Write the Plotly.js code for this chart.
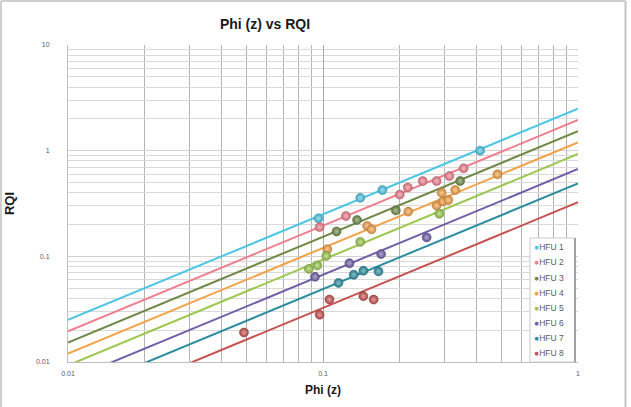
<!DOCTYPE html>
<html>
<head>
<meta charset="utf-8">
<script src="https://cdn.plot.ly/plotly-3.0.1.min.js"></script>
<style>
  html, body { margin: 0; padding: 0; background: #ffffff; }
  #chart { width: 631px; height: 407px; }
</style>
</head>
<body>
<div id="chart"></div>
<script>
// Hydraulic flow units: normalized porosity Phi(z) against reservoir quality index
const unitNames = ['HFU 1', 'HFU 2', 'HFU 3', 'HFU 4', 'HFU 5', 'HFU 6', 'HFU 7', 'HFU 8'];
const unitColors = ['#4cc5e4', '#ee7e8c', '#6e8946', '#f4a146', '#9ac74c', '#6f5fa7', '#2b8d9f', '#c6514f'];
// Flow zone indicator of each unit (RQI = FZI * Phi(z))
const fzi = [2.5, 1.95, 1.53, 1.2, 0.93, 0.67, 0.49, 0.325];

const phiZ1 = [0.096, 0.140, 0.171, 0.413];
const rqi1  = [0.229, 0.358, 0.424, 1.0];
const phiZ2 = [0.097, 0.123, 0.200, 0.215, 0.246, 0.279, 0.313, 0.356];
const rqi2  = [0.189, 0.241, 0.384, 0.448, 0.516, 0.516, 0.575, 0.680];
const phiZ3 = [0.113, 0.136, 0.193, 0.345];
const rqi3  = [0.172, 0.221, 0.272, 0.516];
const phiZ4 = [0.104, 0.149, 0.155, 0.216, 0.279, 0.295, 0.310, 0.292, 0.330, 0.483];
const rqi4  = [0.117, 0.194, 0.180, 0.265, 0.302, 0.331, 0.341, 0.399, 0.424, 0.597];
const phiZ5 = [0.088, 0.095, 0.103, 0.140, 0.286];
const rqi5  = [0.076, 0.082, 0.101, 0.137, 0.253];
const phiZ6 = [0.093, 0.127, 0.169, 0.255];
const rqi6  = [0.064, 0.086, 0.105, 0.151];
const phiZ7 = [0.115, 0.132, 0.144, 0.165];
const rqi7  = [0.056, 0.067, 0.073, 0.072];
const phiZ8 = [0.049, 0.097, 0.106, 0.144, 0.158];
const rqi8  = [0.019, 0.028, 0.039, 0.042, 0.039];

const phiZ = [phiZ1, phiZ2, phiZ3, phiZ4, phiZ5, phiZ6, phiZ7, phiZ8];
const rqi  = [rqi1, rqi2, rqi3, rqi4, rqi5, rqi6, rqi7, rqi8];

const xTickVals = [0.01, 0.1, 1];
const xTickText = ['0.01', '0.1', '1'];
const yTickVals = [0.01, 0.1, 1, 10];
const yTickText = ['0.01', '0.1', '1', '10'];
const xMinorVals = [0.02,0.03,0.04,0.05,0.06,0.07,0.08,0.09,0.2,0.3,0.4,0.5,0.6,0.7,0.8,0.9];
const yMinorVals = [0.02,0.03,0.04,0.05,0.06,0.07,0.08,0.09,0.2,0.3,0.4,0.5,0.6,0.7,0.8,0.9,2,3,4,5,6,7,8,9];

const xSpan = [0.01, 1];

function shade(hex, f) {
  const n = parseInt(hex.slice(1), 16);
  let r = (n >> 16) & 255, g = (n >> 8) & 255, b = n & 255;
  if (f >= 0) { r += (255 - r) * f; g += (255 - g) * f; b += (255 - b) * f; }
  else { r *= 1 + f; g *= 1 + f; b *= 1 + f; }
  return 'rgb(' + Math.round(r) + ',' + Math.round(g) + ',' + Math.round(b) + ')';
}

const traces = [];
// trend line of each flow unit across the full Phi(z) span
unitNames.forEach((name, i) => {
  traces.push({
    type: 'scatter', mode: 'lines', showlegend: false, hoverinfo: 'skip',
    x: xSpan, y: xSpan.map(v => v * fzi[i]),
    line: { color: unitColors[i], width: 2 }
  });
});
// measured samples
unitNames.forEach((name, i) => {
  traces.push({
    type: 'scatter', mode: 'markers', name: name, showlegend: false,
    x: phiZ[i], y: rqi[i],
    marker: {
      size: 9, color: shade(unitColors[i], -0.15),
      gradient: { type: 'radial', color: shade(unitColors[i], 0.45) },
      line: { width: 0.5, color: shade(unitColors[i], -0.3) }
    }
  });
});

// legend box drawn in paper coordinates
const plotL = 68, plotR = 578, plotT = 45, plotB = 362;
const px = v => (v - plotL) / (plotR - plotL);
const py = v => (plotB - v) / (plotB - plotT);

const shapes = [
  // outer frame
  { type: 'line', xref: 'paper', yref: 'paper', x0: px(1), x1: px(1), y0: py(1), y1: py(410), line: { color: '#cfcfcf', width: 2 } },
  { type: 'line', xref: 'paper', yref: 'paper', x0: px(1), x1: px(625.5), y0: py(1), y1: py(1), line: { color: '#cfcfcf', width: 2 } },
  { type: 'line', xref: 'paper', yref: 'paper', x0: px(625.5), x1: px(625.5), y0: py(1), y1: py(410), line: { color: '#c4c4c4', width: 2 } },
  // legend panel
  { type: 'rect', xref: 'paper', yref: 'paper', x0: px(530), x1: px(575), y0: py(362), y1: py(238),
    fillcolor: '#ffffff', line: { color: '#c8c8c8', width: 1 }, layer: 'above' },
  { type: 'line', xref: 'paper', yref: 'paper', x0: px(575), x1: px(575), y0: py(362), y1: py(238),
    line: { color: '#8c8c8c', width: 1.5 }, layer: 'above' }
];

const annotations = unitNames.map((name, i) => ({
  xref: 'paper', yref: 'paper', x: px(531.5), y: py(247.3 + i * 15.1),
  xanchor: 'left', yanchor: 'middle', showarrow: false,
  text: '<span style="color:' + unitColors[i] + '">●</span>' + name,
  font: { family: 'Liberation Sans, Arial, sans-serif', size: 8.5, color: '#595959' }
}));

const axisFont = { family: 'Liberation Sans, Arial, sans-serif', size: 7, color: '#595959' };

const layout = {
  width: 631, height: 407,
  margin: { l: plotL, r: 631 - plotR, t: plotT, b: 407 - plotB, pad: 0 },
  paper_bgcolor: '#ffffff', plot_bgcolor: '#ffffff',
  showlegend: false,
  title: {
    text: 'Phi (z) vs RQI',
    font: { family: 'Liberation Sans, Arial, sans-serif', size: 14, color: '#1a1a1a', weight: 'bold' },
    x: 265 / 631, xref: 'container', xanchor: 'center',
    y: 1 - 24 / 407, yref: 'container', yanchor: 'middle'
  },
  xaxis: {
    type: 'log', range: [-2, 0], fixedrange: true,
    tickmode: 'array', tickvals: xTickVals, ticktext: xTickText,
    tickfont: axisFont, ticks: '', ticklabelstandoff: 5,
    showgrid: true, gridcolor: '#a9a9a9', gridwidth: 1,
    minor: { tickmode: 'array', tickvals: xMinorVals, showgrid: true, gridcolor: '#b3b3b3', gridwidth: 1, ticks: '' },
    showline: true, linecolor: '#bfbfbf', linewidth: 1, mirror: false, zeroline: false,
    title: { text: 'Phi (z)', standoff: 9,
      font: { family: 'Liberation Sans, Arial, sans-serif', size: 12, color: '#1a1a1a', weight: 'bold' } },
    automargin: false
  },
  yaxis: {
    type: 'log', range: [-2, 1], fixedrange: true,
    tickmode: 'array', tickvals: yTickVals, ticktext: yTickText,
    tickfont: axisFont, ticks: '', ticklabelstandoff: 16,
    showgrid: true, gridcolor: '#d2d2d2', gridwidth: 1,
    minor: { tickmode: 'array', tickvals: yMinorVals, showgrid: true, gridcolor: '#d9d9d9', gridwidth: 1, ticks: '' },
    showline: true, linecolor: '#bfbfbf', linewidth: 1, zeroline: false,
    title: { text: 'RQI', standoff: 18,
      font: { family: 'Liberation Sans, Arial, sans-serif', size: 13, color: '#1a1a1a', weight: 'bold' } },
    automargin: false
  },
  shapes: shapes,
  annotations: annotations
};

Plotly.newPlot('chart', traces, layout, { staticPlot: true, displayModeBar: false });
</script>
</body>
</html>
